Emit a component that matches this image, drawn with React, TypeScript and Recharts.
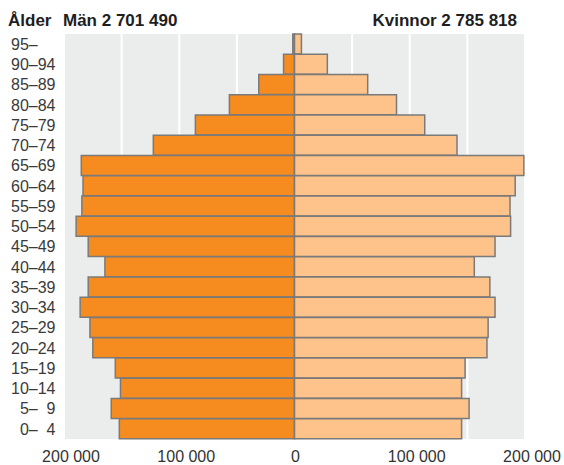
import { BarChart, Bar, XAxis, YAxis, CartesianGrid } from 'recharts'

const ageGroups = [
  '95–', '90–94', '85–89', '80–84', '75–79', '70–74', '65–69', '60–64', '55–59', '50–54',
  '45–49', '40–44', '35–39', '30–34', '25–29', '20–24', '15–19', '10–14', '\u20075–\u20079', '\u20070–\u20074',
]

const menValues = [
  1500, 9500, 31000, 56500, 86000, 122500, 185000, 183500, 184500, 189500,
  179000, 164500, 179000, 186000, 177500, 175000, 155500, 151000, 159000, 152000,
]

const womenValues = [
  6000, 28500, 63500, 88500, 113000, 141000, 199000, 191500, 187000, 187500,
  174000, 156000, 169500, 174000, 168000, 167000, 148000, 145000, 151500, 145000,
]

const gridTicks = [-200000, -150000, -100000, -50000, 0, 50000, 100000, 150000, 200000]

const menTitle = 'Män 2 701 490'
const womenTitle = 'Kvinnor 2 785 818'

const data = ageGroups.map((age, i) => ({ age, men: -menValues[i], women: womenValues[i] }))

const FONT = '"Liberation Sans", Arial, Helvetica, sans-serif'

const fmt = (v: number) =>
  Math.abs(v)
    .toString()
    .replace(/\B(?=(\d{3})+(?!\d))/g, ' ')

function ValueTick({ x, y, payload }: any) {
  const v = payload.value as number
  if (v % 100000 !== 0) return <g />
  return (
    <text x={x + (v === 0 ? 1 : 7)} y={y} dy={15} textAnchor="middle" fill="#333" fontSize={16} fontFamily={FONT}>
      {fmt(v)}
    </text>
  )
}

function AgeTick({ y, payload }: any) {
  return (
    <text x={11} y={y} dy="0.36em" textAnchor="start" fill="#3a3a3a" fontSize={16} fontFamily={FONT}>
      {payload.value}
    </text>
  )
}

const headStyle = {
  position: 'absolute' as const,
  top: 12,
  fontFamily: FONT,
  fontWeight: 700,
  fontSize: 17,
  lineHeight: 1,
  color: '#1e1e1e',
  whiteSpace: 'nowrap' as const,
}

export default function App() {
  return (
    <div style={{ position: 'absolute', left: 0, top: 0, width: 564, height: 465, background: '#fff' }}>
      <div style={{ ...headStyle, left: 8 }}>Ålder</div>
      <div style={{ ...headStyle, left: 63 }}>{menTitle}</div>
      <div style={{ ...headStyle, right: 47 }}>{womenTitle}</div>
      <BarChart
        layout="vertical"
        width={564}
        height={465}
        data={data}
        stackOffset="sign"
        barCategoryGap={0}
        margin={{ top: 34, right: 39, bottom: 0, left: 8 }}
      >
        <CartesianGrid horizontal={false} stroke="#fff" strokeWidth={2} fill="#EBECEC" fillOpacity={1} />
        <XAxis
          type="number"
          domain={[-200000, 200000]}
          ticks={gridTicks}
          interval={0}
          axisLine={false}
          tickLine={false}
          tick={<ValueTick />}
          height={26}
        />
        <YAxis
          type="category"
          dataKey="age"
          width={56}
          interval={0}
          axisLine={false}
          tickLine={false}
          tick={<AgeTick />}
        />
        <Bar dataKey="men" stackId="a" fill="#F68B1F" stroke="#7A7A7A" strokeWidth={1.5} isAnimationActive={false} />
        <Bar dataKey="women" stackId="a" fill="#FDC38A" stroke="#7A7A7A" strokeWidth={1.5} isAnimationActive={false} />
      </BarChart>
    </div>
  )
}
